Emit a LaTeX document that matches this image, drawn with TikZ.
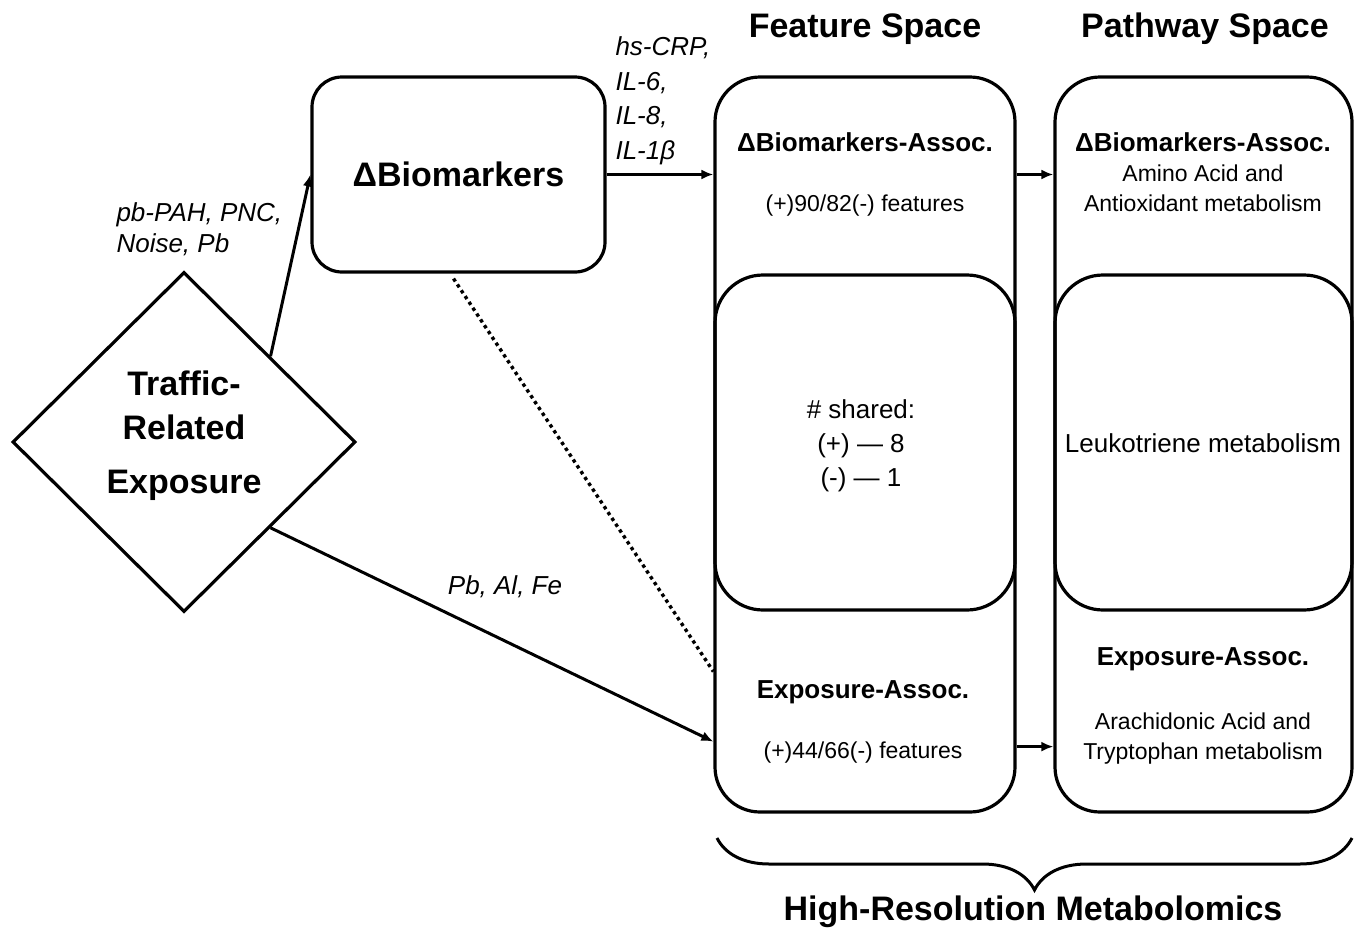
\documentclass[tikz,border=0pt]{standalone}
\usepackage{fontspec}
\setmainfont{Liberation Sans}
\usetikzlibrary{shapes.geometric,arrows.meta,calc,decorations.pathreplacing}

\begin{document}
\begin{tikzpicture}[x=1pt,y=-1pt,
    bigtext/.style={font=\fontsize{34}{44}\selectfont\bfseries},
    headtext/.style={font=\fontsize{26}{32}\selectfont\bfseries},
    midtext/.style={font=\fontsize{26}{34}\selectfont},
    smalltext/.style={font=\fontsize{23}{30}\selectfont},
    arrowlabel/.style={font=\fontsize{26}{34.5}\selectfont\itshape, align=left},
    roundbox/.style={draw, line width=3.2pt, rounded corners=#1, inner sep=0pt},
    conn/.style={line width=3pt, -{Latex[length=12pt,width=10pt]}},
    assoc/.style={line width=3.4pt, dash pattern=on 3.4pt off 3.6pt}]
    \useasboundingbox (0,0) rectangle (1358,932);

    \node[draw, diamond, line width=3.2pt, minimum width=343, minimum height=340,
          inner sep=0pt, bigtext] (tre) at (184,442)
          {\raisebox{6pt}[\height][\depth]{\begin{tabular}{@{}c@{}}Traffic-\\Related\\[10pt]Exposure\end{tabular}}};
    \node[roundbox=30, minimum width=293, minimum height=195, bigtext] (bio) at (458.5,174.5)
          {ΔBiomarkers};

    \node[bigtext] (ftitle) at (865,29) {Feature Space};
    \node[bigtext] (ptitle) at (1205,29) {Pathway Space};

    \node[roundbox=45, minimum width=300, minimum height=735] (feat) at (865,444.5) {};
    \node[roundbox=48, minimum width=300, minimum height=335] (fmid) at (865,442.5) {};
    \node[roundbox=45, minimum width=297, minimum height=735] (path) at (1203.5,444.5) {};
    \node[roundbox=48, minimum width=297, minimum height=335] (pmid) at (1203.5,442.5) {};

    \node[headtext] (fbioh) at (865,142) {ΔBiomarkers-Assoc.};
    \node[smalltext] (fbion) at (865,206) {(+)90/82(-) features};
    \node[midtext, align=center] (fshared) at (861,446) {\# shared:\\(+) — 8\\(-) — 1};
    \node[headtext] (fexph) at (863,692) {Exposure-Assoc.};
    \node[smalltext] (fexpn) at (863,753) {(+)44/66(-) features};

    \node[headtext] (pbioh) at (1203,142) {ΔBiomarkers-Assoc.};
    \node[smalltext, align=center] (pbion) at (1203,188) {Amino Acid and\\Antioxidant metabolism};
    \node[midtext] (pleuk) at (1203,443) {Leukotriene metabolism};
    \node[headtext] (pexph) at (1203,659) {Exposure-Assoc.};
    \node[smalltext, align=center] (pexpn) at (1203,739) {Arachidonic Acid and\\Tryptophan metabolism};

    \node[arrowlabel, anchor=west, font=\fontsize{26}{31}\selectfont\itshape] (lexp) at (113,229)
          {pb-PAH, PNC,\\Noise, Pb};
    \node[arrowlabel, anchor=west] (lbio) at (612,101) {hs-CRP,\\IL-6,\\IL-8,\\IL-1β};
    \node[arrowlabel] (lmet) at (505,587) {Pb, Al, Fe};

    \draw[conn] (tre.north east) -- (bio.west);
    \draw[conn] (bio.east) -- (bio.east -| feat.west);
    \draw[conn] (tre.south east) -- ($(feat.south west)+(0,-72)$);
    \draw[assoc] ($(bio.south)+(-5,5)$) -- ($(feat.south west)+(0,-142)$);
    \draw[conn] (feat.east |- bio.east) -- (path.west |- bio.east);
    \draw[conn] ($(feat.south east)+(0,-67)$) -- ($(path.south west)+(0,-67)$);

    \coordinate (bracer) at (1352,838);
    \coordinate (bracel) at (717,838);
    \draw[line width=3pt, decorate, decoration={brace, amplitude=52pt}] (bracer) -- (bracel);
    \node[bigtext] (hrm) at (1033,912) {High-Resolution Metabolomics};
\end{tikzpicture}
\end{document}
